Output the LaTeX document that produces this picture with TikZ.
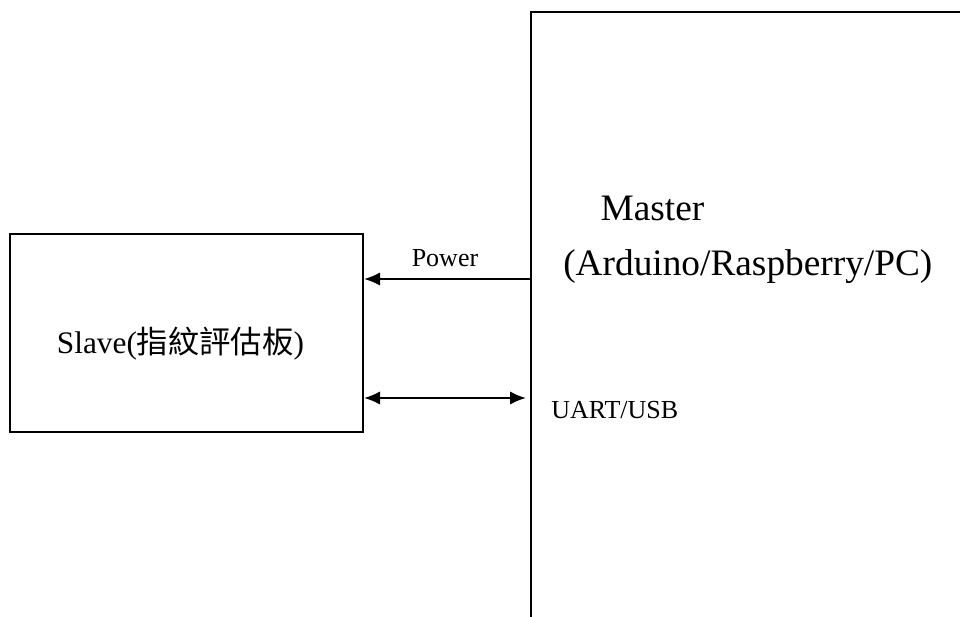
\documentclass[tikz,border=0pt]{standalone}
\usepackage{fontspec}
\setmainfont{Liberation Serif}
\newfontfamily\cjk{Noto Sans CJK TC}
\usetikzlibrary{arrows.meta}

\begin{document}
\begin{tikzpicture}[>={Latex[length=12pt,width=10pt]}, x=0.75pt, y=-0.75pt]

% Page frame
\useasboundingbox (0,0) rectangle (960,617);

\tikzset{
    slave box/.style={
        draw, line width=1.5pt, rectangle,
        minimum width=264.75pt, minimum height=148.5pt,
        text height=30pt, text depth=0pt,
        font=\fontsize{23.5}{28}\selectfont
    },
    link/.style={
        line width=1.5pt
    },
    port label/.style={
        font=\fontsize{19.5}{23}\selectfont, inner sep=0pt
    }
}

% SLAVE BOARD
\node[slave box] (slave) at (186.5,333) {Slave({\cjk 指紋評估板})\hspace*{9pt}};

% MASTER (runs off the page)
\draw[line width=1.8pt] (531,617) -- (531,12) -- (960,12);
\node[font=\fontsize{28}{41}\selectfont, align=left, anchor=north west, inner sep=0pt] (master) at (563,196) {\hspace*{28pt}Master\\(Arduino/Raspberry/PC)};

% --- LINKS ---
\coordinate (pwr) at (531,279);
\coordinate (uart) at (526,398);

\draw[link, ->] (pwr) -- (pwr -| slave.east);
\draw[link, <->] (slave.east |- uart) -- (uart);

% Labels
\node[port label] (power) at (445,258) {Power};
\node[port label, anchor=west] (uartusb) at (551,410) {UART/USB};

\end{tikzpicture}
\end{document}
